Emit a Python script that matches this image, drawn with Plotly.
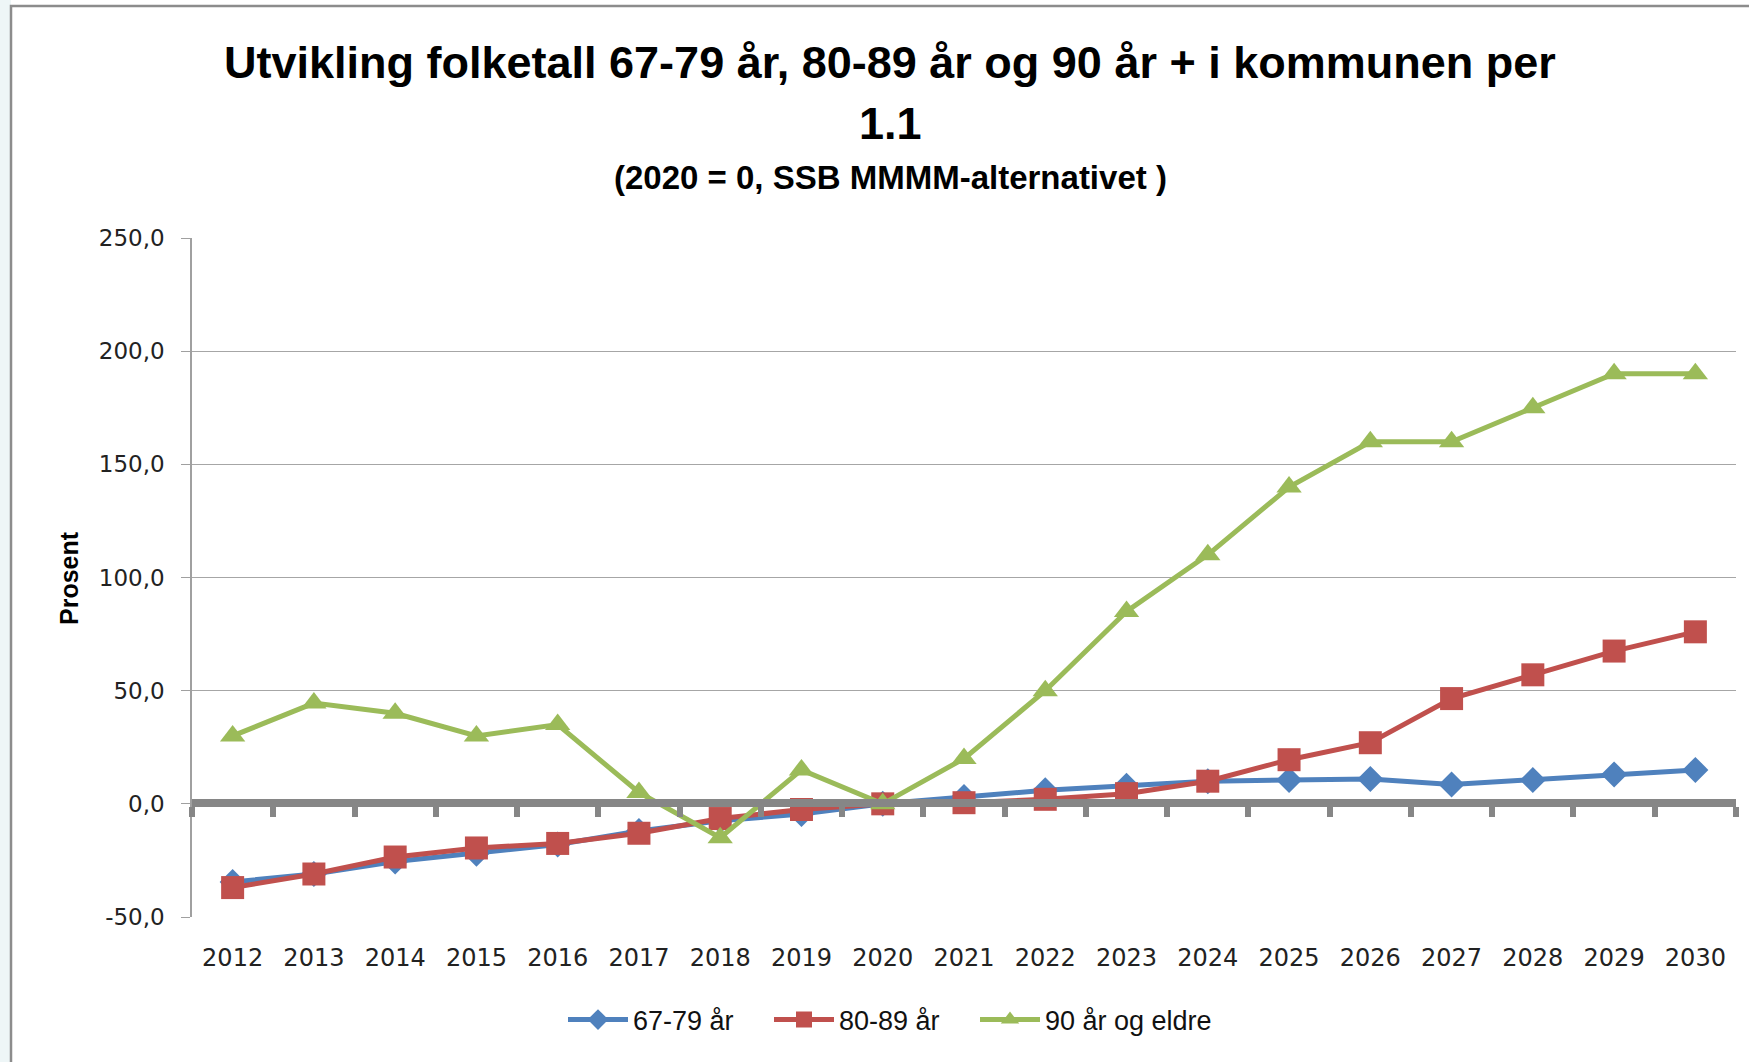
import plotly.graph_objects as go

years = [str(y) for y in range(2012, 2031)]
s67_79 = [-34.5, -31, -25.5, -22, -18, -12, -7.5, -4.5, 0, 3, 6, 8, 10, 10.5, 11, 8.5, 10.5, 13, 15]
s80_89 = [-37, -31, -23.5, -19.5, -17.5, -13, -6.5, -2.5, 0, 0.5, 2, 4.5, 10, 19.5, 27, 46.5, 57, 67.5, 76]
s90 = [30, 44.5, 40, 30, 35, 5, -15, 15, 0, 20, 50, 85, 110, 140, 160, 160, 175, 190, 190]
names = ["67-79 år", "80-89 år", "90 år og eldre"]
yticks = [-50, 0, 50, 100, 150, 200, 250]
ytick_text = ["-50,0", "0,0", "50,0", "100,0", "150,0", "200,0", "250,0"]

blue, red, green = "#4F81BD", "#C0504D", "#9BBB59"

fig = go.Figure()
fig.add_trace(go.Scatter(x=years, y=[None]*len(years), xaxis="x2", showlegend=False, hoverinfo="skip"))
fig.add_trace(go.Scatter(x=years, y=s67_79, name=names[0], mode="lines+markers", legend="legend",
                         line=dict(color=blue, width=5),
                         marker=dict(symbol="diamond", size=20, color=blue)))
fig.add_trace(go.Scatter(x=years, y=s80_89, name=names[1], mode="lines+markers", legend="legend2",
                         line=dict(color=red, width=5),
                         marker=dict(symbol="square", size=23, color=red)))
fig.add_trace(go.Scatter(x=years, y=s90, name=names[2], mode="lines+markers", legend="legend3",
                         line=dict(color=green, width=5),
                         marker=dict(symbol="triangle-up", size=22, color=green)))

xfont = dict(family="DejaVu Sans", size=24, color="#222222")
yfont = dict(family="DejaVu Sans", size=23, color="#222222")
title_font = "Liberation Sans, Arial"
xr = [-0.5, len(years) - 0.5]

def leg(px):
    return dict(orientation="h", x=(px - 192) / 1544, xanchor="left",
                y=-(1020 - 917) / 679, yanchor="middle",
                font=dict(family=title_font, size=27, color="#111111"),
                itemwidth=60, bgcolor="rgba(0,0,0,0)")

fig.update_layout(
    width=1749, height=1062,
    margin=dict(l=192, r=13, t=238, b=145),
    paper_bgcolor="white", plot_bgcolor="white",
    xaxis=dict(type="category", categoryorder="array", categoryarray=years, range=xr,
               showline=False, showgrid=False, zeroline=False, ticks="",
               tickfont=xfont, ticklabelstandoff=24),
    xaxis2=dict(type="category", categoryorder="array", categoryarray=years, range=xr,
                overlaying="x", anchor="free", position=(917-803)/679,
                showline=True, linecolor="#868686", linewidth=8,
                ticks="outside", tickson="boundaries", ticklen=10, tickwidth=6,
                tickcolor="#868686", showticklabels=False, showgrid=False),
    yaxis=dict(range=[-50, 250], tickvals=yticks, ticktext=ytick_text,
               showline=True, linecolor="#A0A0A0", linewidth=1.5,
               ticks="outside", ticklen=9, tickcolor="#A0A0A0",
               showgrid=True, gridcolor="#A6A6A6", gridwidth=1,
               zeroline=False, tickfont=yfont, ticklabelstandoff=12),
    showlegend=True,
    legend=leg(563),
    legend2=leg(769),
    legend3=leg(975),
    annotations=[
        dict(text="<b>Utvikling folketall 67-79 år, 80-89 år og 90 år + i kommunen per</b>",
             xref="paper", yref="paper", x=(890-192)/1544, y=(917-62)/679,
             showarrow=False, font=dict(family=title_font, size=45, color="black"),
             xanchor="center", yanchor="middle"),
        dict(text="<b>1.1</b>", xref="paper", yref="paper", x=(890-192)/1544, y=(917-124)/679,
             showarrow=False, font=dict(family=title_font, size=45, color="black"),
             xanchor="center", yanchor="middle"),
        dict(text="<b>(2020 = 0, SSB MMMM-alternativet )</b>", xref="paper", yref="paper",
             x=(890-192)/1544, y=(917-177)/679, showarrow=False,
             font=dict(family=title_font, size=33, color="black"),
             xanchor="center", yanchor="middle"),
        dict(text="<b>Prosent</b>", xref="paper", yref="paper", x=(69-192)/1544, y=(917-578)/679,
             showarrow=False, textangle=-90, font=dict(family=title_font, size=25, color="black"),
             xanchor="center", yanchor="middle"),
    ],
    shapes=[
        dict(type="rect", xref="paper", yref="paper", x0=-0.2, x1=(11-192)/1544,
             y0=-0.3, y1=1.5, fillcolor="#EEF6F7", line=dict(width=0), layer="below"),
        dict(type="rect", xref="paper", yref="paper", x0=(11-192)/1544, x1=1.03,
             y0=-0.3, y1=(917-6)/679, fillcolor="rgba(0,0,0,0)",
             line=dict(color="#8C8C8C", width=2.5)),
    ],
)

fig.write_html("out.html", config={"displayModeBar": False},
               post_script="document.body.style.margin='0';")
